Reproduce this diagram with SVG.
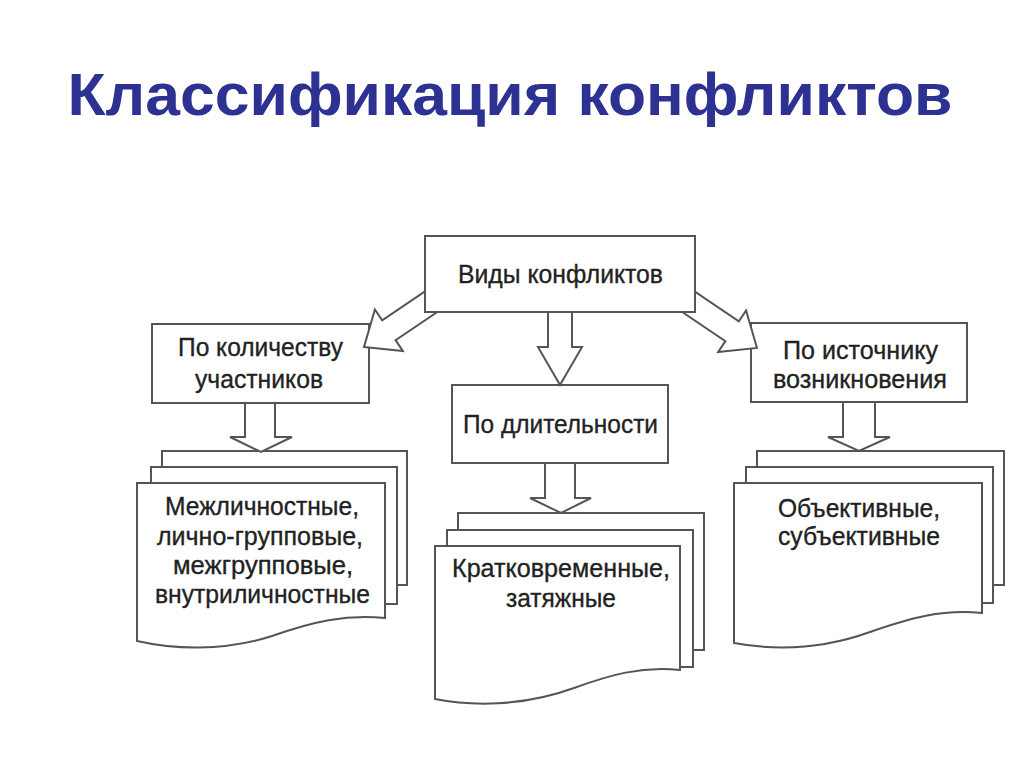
<svg xmlns="http://www.w3.org/2000/svg" width="1024" height="767" viewBox="0 0 1024 767">
<style>
.bg{fill:#ffffff}
.box{fill:#ffffff;stroke:#555555;stroke-width:2}
.arr{fill:#ffffff;stroke:#555555;stroke-width:2;stroke-linejoin:miter}
.t{font-family:"Liberation Sans",Arial,sans-serif;font-size:26.5px;fill:#222222;stroke:#222222;stroke-width:0.35;text-anchor:middle}
.title{font-family:"Liberation Sans",Arial,sans-serif;font-size:59px;font-weight:bold;fill:#2c3192;text-anchor:middle}
</style>
<rect class="bg" x="0" y="0" width="1024" height="767"/>
<text class="title" x="510" y="115" textLength="885" lengthAdjust="spacingAndGlyphs">Классификация конфликтов</text>

<g id="box-left">
<rect class="box" x="152" y="324" width="217" height="79"/>
<text class="t" x="260.5" y="356" textLength="165" lengthAdjust="spacingAndGlyphs">По количеству</text>
<text class="t" x="259" y="388" textLength="128" lengthAdjust="spacingAndGlyphs">участников</text>
</g>
<g id="box-middle">
<rect class="box" x="452" y="385" width="216" height="78"/>
<text class="t" x="560.5" y="433" textLength="195" lengthAdjust="spacingAndGlyphs">По длительности</text>
</g>
<g id="box-right">
<rect class="box" x="751" y="323" width="216" height="79"/>
<text class="t" x="860.5" y="359" textLength="155" lengthAdjust="spacingAndGlyphs">По источнику</text>
<text class="t" x="860" y="388" textLength="174" lengthAdjust="spacingAndGlyphs">возникновения</text>
</g>

<g id="stack-left">
<rect class="box" x="162" y="451" width="245" height="134"/>
<rect class="box" x="151" y="467" width="246" height="137"/>
<path class="box" d="M137,483 H385 V618 C345,614 312,622 272,636 C222,652 172,649 137,641 Z"/>
<text class="t" x="262" y="515" textLength="194" lengthAdjust="spacingAndGlyphs">Межличностные,</text>
<text class="t" x="260" y="545" textLength="206" lengthAdjust="spacingAndGlyphs">лично-групповые,</text>
<text class="t" x="263" y="574" textLength="180" lengthAdjust="spacingAndGlyphs">межгрупповые,</text>
<text class="t" x="262.5" y="603" textLength="215" lengthAdjust="spacingAndGlyphs">внутриличностные</text>
</g>
<g id="stack-middle">
<rect class="box" x="458" y="513" width="246" height="137"/>
<rect class="box" x="447" y="530" width="246" height="137"/>
<path class="box" d="M435,546 H680 V670 C640,666 610,675 574,688 C522,707 470,706 435,699 Z"/>
<text class="t" x="561" y="577" textLength="218" lengthAdjust="spacingAndGlyphs">Кратковременные,</text>
<text class="t" x="561" y="607" textLength="110" lengthAdjust="spacingAndGlyphs">затяжные</text>
</g>
<g id="stack-right">
<rect class="box" x="757" y="451" width="247" height="134"/>
<rect class="box" x="746" y="467" width="247" height="136"/>
<path class="box" d="M734,483 H982 V613 C942,609 910,618 870,632 C820,650 772,650 734,643 Z"/>
<text class="t" x="859" y="517" textLength="162" lengthAdjust="spacingAndGlyphs">Объективные,</text>
<text class="t" x="859" y="545" textLength="162" lengthAdjust="spacingAndGlyphs">субъективные</text>
</g>

<g id="connectors">
<path class="arr" transform="translate(364,347) rotate(146)" d="M0,0 L-30,-25 L-30,-12 L-95,-12 L-95,12 L-30,12 L-30,25 Z"/>
<path class="arr" transform="translate(757,348) rotate(34)" d="M0,0 L-30,-25 L-30,-12 L-95,-12 L-95,12 L-30,12 L-30,25 Z"/>
<path class="arr" d="M548,310 V347 H538 L560,385 L582,347 H572 V310 Z"/>
<path class="arr" d="M245,403 V437 H230 L261,452 L292,437 H275 V403 Z"/>
<path class="arr" d="M545,463 V498 H530 L561,513 L591,498 H575 V463 Z"/>
<path class="arr" d="M843,402 V437 H828 L859,451 L890,437 H875 V402 Z"/>
</g>

<g id="box-top">
<rect class="box" x="425" y="236" width="270" height="76"/>
<text class="t" x="560.5" y="283" textLength="205" lengthAdjust="spacingAndGlyphs">Виды конфликтов</text>
</g>
</svg>
